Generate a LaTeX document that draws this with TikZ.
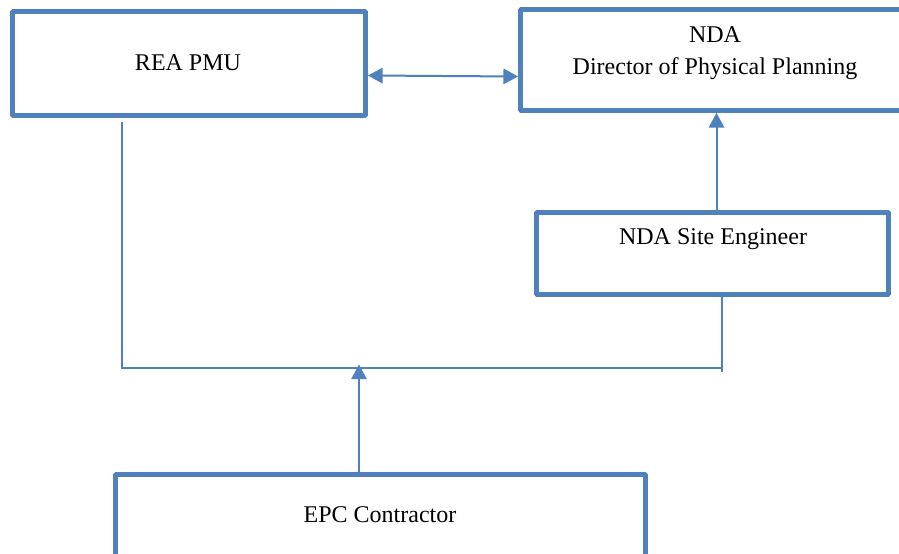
\documentclass[tikz,border=0pt]{standalone}
\usepackage{fontspec}
\setmainfont{Liberation Serif}
\usetikzlibrary{arrows.meta,calc}
\definecolor{boxblue}{HTML}{4F81BD}
\begin{document}
\begin{tikzpicture}[x=0.75pt,y=-0.75pt,
  box/.style={draw=boxblue,line width=3.6pt,fill=white,rectangle,inner sep=0pt,rounded corners=0.6pt},
  lbl/.style={font=\fontsize{18}{24}\selectfont,align=center,inner sep=0pt,text=black},
  conn/.style={draw=boxblue,line width=1.5pt},
  arr/.style={conn,-{Triangle[length=11pt,width=11.5pt]}},
  darr/.style={conn,{Triangle[length=11pt,width=11.5pt]}-{Triangle[length=11pt,width=11.5pt]}}]
\clip (0,0) rectangle (899,553);
\fill[white] (0,0) rectangle (899,553);
% boxes
\node[box,minimum width=264.75pt,minimum height=78pt] (rea) at (189,63.5) {};
\node[box,minimum width=299.6pt,minimum height=75.75pt] (nda) at (720.25,60) {};
\node[box,minimum width=264pt,minimum height=61.5pt] (se) at (712.5,253.5) {};
\node[box,minimum width=397.5pt,minimum height=79.1pt] (epc) at (380.5,527.25) {};
% texts
\node[lbl] (reat) at (188,63) {REA PMU};
\node[lbl] (ndat) at (715,53) {NDA\\Director of Physical Planning};
\node[lbl] (set) at (713,239) {NDA Site Engineer};
\node[lbl] (epct) at (380,515) {EPC Contractor};
% connector coordinates
\coordinate (ja) at (122,367.7);
\coordinate (jb) at (722,367.7);
\coordinate (jend) at (722,372);
\coordinate (reabot) at (122,122);
\coordinate (jup) at (359,364.5);
% connectors
\draw[darr] ($(rea.east)+(0,12)$) -- ($(nda.west)+(0,16.5)$);
\draw[arr] (se.north -| 716.5,0) -- (nda.south -| 716.5,0);
\draw[conn] (reabot) -- (ja) -- (jb);
\draw[conn] (se.south -| jb) -- (jend);
\draw[arr] (epc.north -| jup) -- (jup);
\end{tikzpicture}
\end{document}
